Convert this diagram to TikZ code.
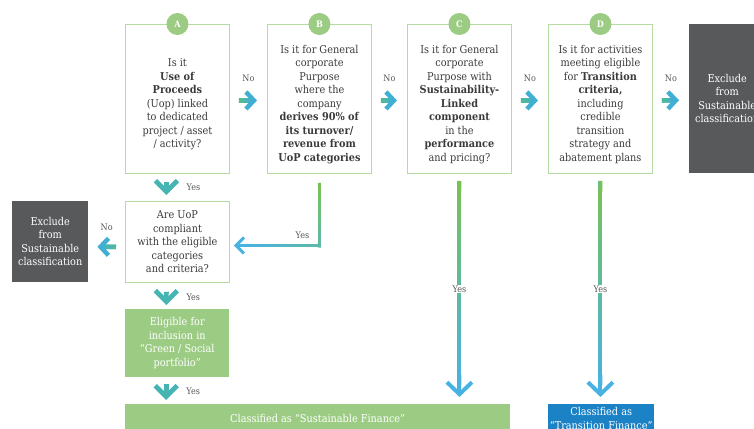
\documentclass[tikz,border=0pt]{standalone}
\usepackage{fontspec}
\setmainfont{DejaVu Serif Condensed}
\usetikzlibrary{arrows.meta,calc}
\definecolor{bord}{HTML}{B5DBA0}
\definecolor{cgreen}{HTML}{9CCC84}
\definecolor{xgray}{HTML}{58595B}
\definecolor{tblue}{HTML}{1B82C5}
\definecolor{txt}{HTML}{3A3A3A}
\definecolor{lblc}{HTML}{555555}
\definecolor{agreen}{HTML}{78C152}
\definecolor{amid}{HTML}{5DB9A6}
\definecolor{ablue}{HTML}{48B2E2}
\definecolor{cteal}{HTML}{47B4B4}
\definecolor{ngreen}{HTML}{55BB8C}
\definecolor{nmid}{HTML}{45B2C4}
\definecolor{nblue}{HTML}{41AFD4}
\newcommand\gradline[5]{%
  \foreach \gi in {0,...,23}{%
    \pgfmathtruncatemacro\gp{100*(\gi+0.5)/24}%
    \draw[line width=#5, draw={#4!\gp!#3}] ($(#1)!{\gi/24}!(#2)$) -- ($(#1)!{(\gi+1.25)/24}!(#2)$);
  }}
\tikzset{
  qbox/.style={draw=bord, line width=0.9pt, minimum width=104pt, minimum height=149pt, inner sep=0pt, anchor=north west},
  sbox/.style={draw=bord, line width=0.9pt, minimum width=104pt, minimum height=81pt, inner sep=0pt, anchor=north west, align=center, text=txt, font=\fontsize{10.8}{13.5}\selectfont},
  qtext/.style={align=center, text=txt, inner sep=0pt, font=\fontsize{10.8}{13.5}\selectfont},
  xbox/.style={fill=xgray, minimum width=76pt, inner sep=0pt, anchor=north west, align=center, text=white, font=\fontsize{10.8}{13.5}\selectfont},
  gbox/.style={fill=cgreen, inner sep=0pt, anchor=north west, align=center, text=white, font=\fontsize{10.8}{13.5}\selectfont},
  circ/.style={circle, fill=cgreen, minimum size=22pt, inner sep=0pt, text=white, font=\fontsize{9}{10}\selectfont\bfseries},
  lbl/.style={text=lblc, inner sep=1pt, font=\fontsize{9}{10}\selectfont},
  noarr/.style={draw=nblue, line width=4.5pt, -{Straight Barb[length=8pt,width=17pt]}},
  downarr/.style={draw=cteal, line width=4.8pt, -{Straight Barb[length=11pt,width=22pt]}},
  yesL/.style={draw=ablue, line width=3pt, -{Straight Barb[length=8pt,width=16pt]}},
  longarr/.style={draw=ablue, line width=4pt, -{Straight Barb[length=12pt,width=25pt]}},
}
\begin{document}
\begin{tikzpicture}[x=1pt,y=-1pt]
\useasboundingbox (0,0) rectangle (754,428);
% question boxes
\node[qbox] (A) at (125,24) {};
\node[qbox] (B) at (267,24) {};
\node[qbox] (C) at (407,24) {};
\node[qbox] (D) at (548,24) {};
\node[xbox, minimum height=149pt] (X1) at (689,24) {Exclude\\from\\Sustainable\\classification};
\node[qtext] (At) at ($(A.center)+(0,5.5)$) {Is it\\\textbf{Use of}\\\textbf{Proceeds}\\(Uop) linked\\to dedicated\\project / asset\\/ activity?};
\node[qtext] (Bt) at ($(B.center)+(0,5.5)$) {Is it for General\\corporate\\Purpose\\where the\\company\\\textbf{derives 90\% of}\\\textbf{its turnover/}\\\textbf{revenue from}\\\textbf{UoP categories}};
\node[qtext] (Ct) at ($(C.center)+(0,5.5)$) {Is it for General\\corporate\\Purpose with\\\textbf{Sustainability-}\\\textbf{Linked}\\\textbf{component}\\in the\\\textbf{performance}\\and pricing?};
\node[qtext] (Dt) at ($(D.center)+(0,5.5)$) {Is it for activities\\meeting eligible\\for \textbf{Transition}\\\textbf{criteria,}\\including\\credible\\transition\\strategy and\\abatement plans};
\node[circ] (Ac) at (A.north) {A};
\node[circ] (Bc) at (B.north) {B};
\node[circ] (Cc) at (C.north) {C};
\node[circ] (Dc) at (D.north) {D};
% second level
\node[sbox] (Q) at (125,201) {Are UoP\\compliant\\with the eligible\\categories\\and criteria?};
\node[xbox, minimum height=81pt] (LX) at (12,201) {Exclude\\from\\Sustainable\\classification};
\node[gbox, minimum width=104pt, minimum height=68pt] (E) at (125,309) {Eligible for\\inclusion in\\“Green / Social\\portfolio”};
\node[gbox, minimum width=385pt, minimum height=28pt] (SF) at (125,404) {Classified as “Sustainable Finance”};
\node[gbox, fill=tblue, minimum width=106pt, minimum height=29pt] (TF) at (548,404) {Classified as\\“Transition Finance”};
% No arrows to the right
\foreach \p/\q in {A/B,B/C,C/D,D/X1}{
  \draw[noarr, shorten <=9pt, shorten >=10pt] ([yshift=-1.5pt]\p.east) -- ([yshift=-1.5pt]\q.west);
  \coordinate (ns) at ($(\p.east)+(9,1.5)$);
  \coordinate (ne) at ($(\q.west)+(-17,1.5)$);
  \gradline{ns}{ne}{ngreen}{nmid}{4.5pt}
  \node[lbl] at ($(\p.east)!0.5!(\q.west)+(0,-21)$) {No};
}
% No arrow to the left
\draw[noarr, shorten <=9pt, shorten >=9pt] ([yshift=-5pt]Q.west) -- ([yshift=-5pt]LX.east);
\coordinate (ls) at ($(Q.west)+(-9,5)$);
\coordinate (le) at ($(LX.east)+(16,5)$);
\gradline{ls}{le}{ngreen}{nmid}{4.5pt}
\node[lbl] at ($(Q.west)!0.5!(LX.east)+(0,-15)$) {No};
% down chevrons
\draw[downarr, shorten <=8pt, shorten >=6pt] ([xshift=-11pt]A.south) -- ([xshift=-11pt]Q.north);
\node[lbl] at ($(A.south)!0.5!(Q.north)+(16,0)$) {Yes};
\draw[downarr, shorten <=9pt, shorten >=4pt] ([xshift=-11pt]Q.south) -- ([xshift=-11pt]E.north);
\node[lbl] at ($(Q.south)!0.5!(E.north)+(16,1.5)$) {Yes};
\coordinate (ebot) at ($(E.south)+(-11,0)$);
\draw[downarr, shorten <=7pt, shorten >=4pt] (ebot) -- (ebot |- SF.north);
\node[lbl] at ($(E.south)!0.5!(E.south |- SF.north)+(16,0.5)$) {Yes};
% B yes connector
\coordinate (bk) at ($(B.south |- Q.east)+(0,3.5)$);
\coordinate (b1) at ($(B.south)+(0,9)$);
\coordinate (b2) at ($(bk)+(0,1.5)$);
\coordinate (b3) at ($(bk)+(1.5,0)$);
\coordinate (b4) at ($(Q.east)+(16,3.5)$);
\draw[yesL, shorten <=9pt, shorten >=4pt] (B.south) |- ([yshift=-3.5pt]Q.east);
\gradline{b1}{b2}{agreen}{amid}{3pt}
\gradline{b3}{b4}{amid}{ablue}{3pt}
\node[lbl] at ($(bk)+(-17,-10)$) {Yes};
% long yes connectors
\coordinate (c1) at ($(C.south)+(0,7)$);
\coordinate (c2) at ($(C.south |- SF.north)+(0,-7)$);
\coordinate (c3) at ($(c2)+(0,-14)$);
\draw[longarr] (c1) -- (c2);
\gradline{c1}{c3}{agreen}{ablue}{4pt}
\node[lbl, fill=white] at ($(c1)!0.5!(c2)$) {Yes};
\coordinate (d1) at ($(D.south)+(0,7)$);
\coordinate (d2) at ($(D.south |- TF.north)+(0,-7)$);
\coordinate (d3) at ($(d2)+(0,-14)$);
\draw[longarr] (d1) -- (d2);
\gradline{d1}{d3}{agreen}{ablue}{4pt}
\node[lbl, fill=white] at ($(d1)!0.5!(d2)$) {Yes};
\end{tikzpicture}
\end{document}
